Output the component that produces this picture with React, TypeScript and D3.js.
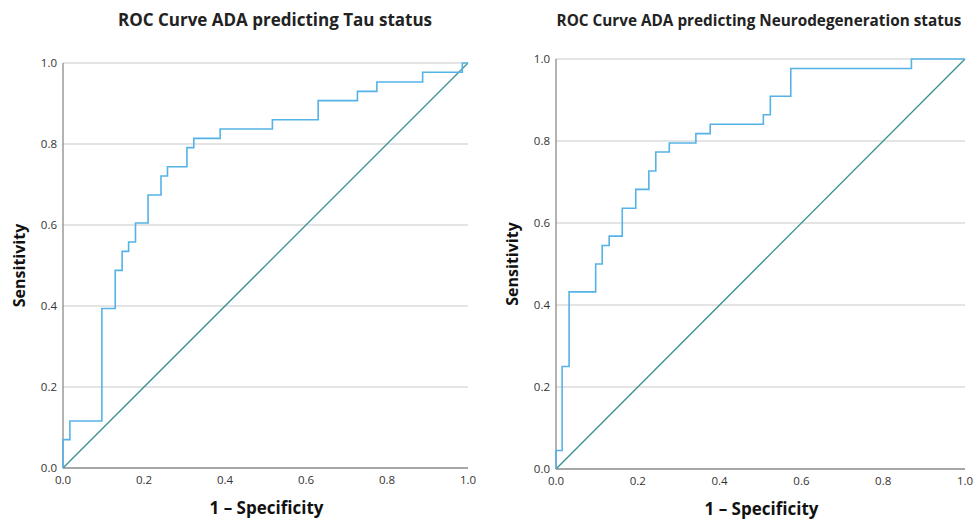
import * as d3 from "d3";

// ROC points, Tau status (1 - specificity, sensitivity)
const tauFpr = [0, 0, 0.017, 0.096, 0.129, 0.146, 0.162, 0.179, 0.21, 0.242, 0.258, 0.306, 0.323, 0.388, 0.517, 0.63, 0.727, 0.775, 0.888, 0.986, 1.0];
const tauTpr = [0, 0.07, 0.116, 0.394, 0.488, 0.535, 0.558, 0.605, 0.674, 0.721, 0.744, 0.791, 0.814, 0.837, 0.86, 0.907, 0.93, 0.953, 0.977, 1.0, 1.0];

// ROC points, Neurodegeneration status
const neuroFpr = [0, 0, 0.015, 0.032, 0.097, 0.113, 0.13, 0.162, 0.195, 0.227, 0.244, 0.277, 0.342, 0.377, 0.507, 0.524, 0.574, 0.869, 1.0];
const neuroTpr = [0, 0.045, 0.25, 0.432, 0.5, 0.545, 0.568, 0.636, 0.682, 0.727, 0.773, 0.795, 0.818, 0.841, 0.864, 0.909, 0.977, 1.0, 1.0];

const ticks = [0, 0.2, 0.4, 0.6, 0.8, 1.0];

const FONT = "'Open Sans', 'DejaVu Sans', sans-serif";
const CURVE = "#55b2e6";
const DIAG = "#3a9090";

type PanelProps = {
  title: string;
  titleX: number;
  titleSize: number;
  fpr: number[];
  tpr: number[];
  left: number;
  right: number;
  top: number;
  bottom: number;
};

function Panel({ title, titleX, titleSize, fpr, tpr, left, right, top, bottom }: PanelProps) {
  const x = d3.scaleLinear().domain([0, 1]).range([left, right]);
  const y = d3.scaleLinear().domain([0, 1]).range([bottom, top]);
  const pts: [number, number][] = fpr.map((f, i) => [f, tpr[i]]);
  const roc = d3
    .line<[number, number]>()
    .x(d => x(d[0]))
    .y(d => y(d[1]))
    .curve(d3.curveStepAfter)(pts);
  const cx = (left + right) / 2;

  return (
    <g>
      <text x={titleX} y={26} textAnchor="middle" fontSize={titleSize} fontWeight="bold" fill="#222" fontFamily={FONT}>
        {title}
      </text>
      {ticks.slice(1).map(t => (
        <line key={t} x1={left} x2={right} y1={y(t)} y2={y(t)} stroke="#c9c9c9" strokeWidth={1.2} />
      ))}
      <line x1={left} x2={left} y1={top} y2={bottom} stroke="#8a8a8a" strokeWidth={1.3} />
      <line x1={left} x2={right} y1={bottom} y2={bottom} stroke="#8a8a8a" strokeWidth={1.3} />
      {ticks.map(t => (
        <text key={"y" + t} x={left - 6} y={y(t)} dy="0.35em" textAnchor="end" fontSize={11.5} fill="#333" fontFamily={FONT}>
          {t.toFixed(1)}
        </text>
      ))}
      {ticks.map(t => (
        <text key={"x" + t} x={x(t)} y={bottom + 16} textAnchor="middle" fontSize={11.5} fill="#333" fontFamily={FONT}>
          {t.toFixed(1)}
        </text>
      ))}
      <line x1={x(0)} y1={y(0)} x2={x(1)} y2={y(1)} stroke={DIAG} strokeWidth={1.3} />
      <path d={roc ?? ""} fill="none" stroke={CURVE} strokeWidth={1.6} />
      <text x={cx + 1} y={bottom + 46} textAnchor="middle" fontSize={17} fontWeight="bold" fill="#111" fontFamily={FONT}>
        1 – Specificity
      </text>
      <text
        transform={`translate(${left - 38},${(top + bottom) / 2}) rotate(-90)`}
        textAnchor="middle"
        fontSize={16}
        fontWeight="bold"
        fill="#111"
        fontFamily={FONT}
      >
        Sensitivity
      </text>
    </g>
  );
}

export default function App() {
  return (
    <svg width={974} height={523} style={{ position: "absolute", left: 0, top: 0, background: "#fff" }}>
      <rect width={974} height={523} fill="#fff" />
      <Panel
        title="ROC Curve ADA predicting Tau status"
        titleX={275}
        titleSize={17}
        fpr={tauFpr}
        tpr={tauTpr}
        left={63}
        right={468}
        top={63}
        bottom={468}
      />
      <Panel
        title="ROC Curve ADA predicting Neurodegeneration status"
        titleX={759}
        titleSize={15.3}
        fpr={neuroFpr}
        tpr={neuroTpr}
        left={556}
        right={965}
        top={59}
        bottom={469}
      />
    </svg>
  );
}
